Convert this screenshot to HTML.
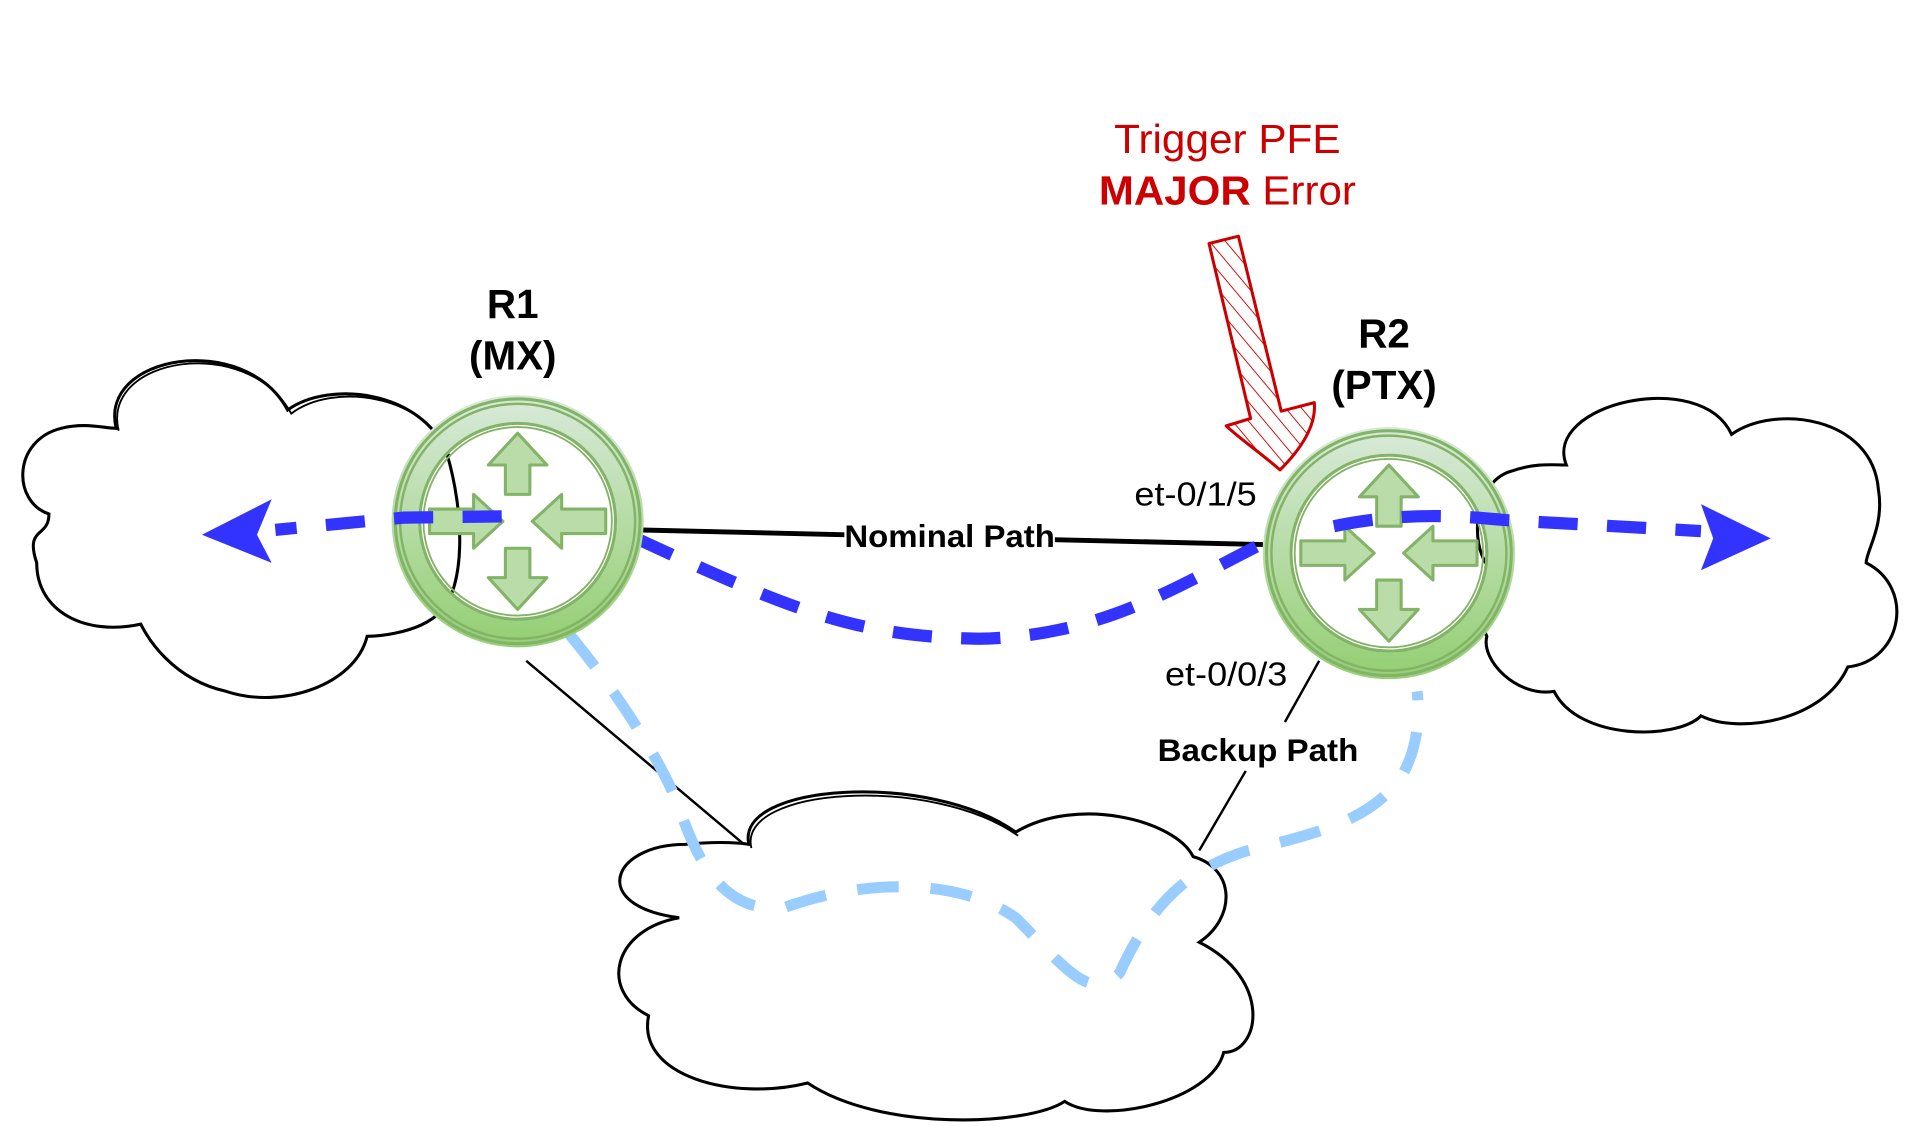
<!DOCTYPE html>
<html><head><meta charset="utf-8"><style>
html,body{margin:0;padding:0;background:#fff;}
svg{display:block;}
text{font-family:"Liberation Sans",Arial,sans-serif;}
</style></head><body>
<svg width="1909" height="1135" viewBox="0 0 1560 927.5" xmlns="http://www.w3.org/2000/svg">
<defs>
<linearGradient id="g" x1="0" y1="0" x2="0" y2="1">
<stop offset="0" stop-color="#d5e8d4"/><stop offset="1" stop-color="#97d077"/>
</linearGradient>
<pattern id="h" width="10" height="10" patternUnits="userSpaceOnUse" patternTransform="rotate(-40)">
<line x1="0" y1="0" x2="0" y2="10" stroke="#cc0000" stroke-width="1.5"/>
</pattern>
<g id="router">
<circle r="92" fill="none" stroke="url(#g)" stroke-width="22"/>
<circle r="100" fill="none" stroke="#82b366" stroke-width="2.5"/>
<circle r="96" fill="none" stroke="#82b366" stroke-width="2"/>
<circle r="80" fill="none" stroke="#82b366" stroke-width="2.5"/>
<circle r="77" fill="none" stroke="#82b366" stroke-width="1.5"/>
<g fill="#b9dca8" stroke="#82b366" stroke-width="2.5" stroke-linejoin="round">
<path d="M0,-72 L-24,-46 L-10,-46 L-10,-22 L10,-22 L10,-46 L24,-46 Z"/>
<path d="M0,72 L-24,46 L-10,46 L-10,22 L10,22 L10,46 L24,46 Z"/>
<path d="M-12,0 L-36,-22 L-36,-10 L-72,-10 L-72,10 L-36,10 L-36,22 Z"/>
<path d="M12,0 L36,-22 L36,-10 L72,-10 L72,10 L36,10 L36,22 Z"/>
</g>
</g>
</defs>

<g fill="#fff" stroke="#000" stroke-width="2.5">
<path d="M95,350 C80,290 200,270 235,335 C270,310 345,320 365,370 C380,420 380,480 360,500 C340,520 300,520 300,520 C290,560 230,580 185,565 C140,555 120,520 115,510 C70,520 30,500 30,460 C20,430 40,440 40,420 C10,410 10,360 50,350 C70,345 85,350 95,350 Z"/>
<path d="M97,352 C82,292 202,272 238,338 C272,312 348,322 367,372" fill="none" stroke-width="1.5"/>
<path d="M1280,380 C1260,330 1390,300 1415,355 C1450,330 1530,340 1535,400 C1540,430 1525,450 1525,460 C1565,480 1555,540 1510,545 C1490,590 1420,600 1390,585 C1370,605 1290,605 1270,565 C1240,570 1210,540 1215,520 C1205,500 1220,480 1225,470 C1200,460 1200,395 1235,385 C1255,378 1270,380 1280,380 Z"/>
<path d="M612,690 C600,640 760,630 830,680 C880,650 960,670 975,700 C1010,710 1010,750 980,770 C1040,800 1030,860 1000,860 C990,900 900,920 870,900 C840,920 720,925 660,885 C600,900 520,880 530,830 C490,810 500,760 555,750 C480,740 500,690 560,690 C580,688 600,688 612,690 Z"/>
<path d="M614,693 C602,643 762,633 832,683" fill="none" stroke-width="1.5"/>
</g>

<line x1="520" y1="433" x2="1032" y2="445" stroke="#000" stroke-width="4"/>
<line x1="430" y1="540" x2="608" y2="690" stroke="#000" stroke-width="2"/>
<path d="M1078,540 L1050,590 M1018,630 L980,695" stroke="#000" stroke-width="2" fill="none"/>

<path d="M465,518 C500,560 540,620 555,660 C575,720 600,745 640,742 C700,720 780,715 830,750 C870,790 890,820 915,795 C940,740 970,710 1020,695 C1080,680 1120,670 1145,635 C1160,610 1160,580 1158,565" fill="none" stroke="#99ccff" stroke-width="9" stroke-dasharray="34 26"/>

<path d="M520,440 C650,500 700,520 800,522 C900,520 960,480 1030,445" fill="none" stroke="#3333ff" stroke-width="10" stroke-dasharray="32 24"/>

<use href="#router" x="423" y="426"/>
<use href="#router" x="1135" y="452"/>

<path d="M410,422 L330,423 L225,433" fill="none" stroke="#3333ff" stroke-width="10" stroke-dasharray="32 24"/>
<path d="M165,437 L222,408 L210,437 L222,460 Z" fill="#3333ff"/>
<path d="M1090,430 C1140,420 1180,420 1230,425 L1390,434" fill="none" stroke="#3333ff" stroke-width="10" stroke-dasharray="32 24"/>
<path d="M1447,440 L1390,412 L1400,440 L1390,466 Z" fill="#3333ff"/>

<path d="M988,199 L1012,193 L1047,336 L1074,329 C1076,350 1060,370 1046,384 C1030,370 1015,360 1002,348 L1022,342 Z" fill="url(#h)" stroke="#cc0000" stroke-width="2.5" stroke-linejoin="round"/>

<g font-weight="bold" fill="#000" text-anchor="middle">
<text x="419" y="260" font-size="33">R1</text>
<text x="419" y="302" font-size="33">(MX)</text>
<text x="1131" y="284" font-size="33">R2</text>
<text x="1131" y="326" font-size="33">(PTX)</text>
</g>
<rect x="690" y="424" width="172" height="28" fill="#fff"/>
<text x="776" y="447" font-size="26" font-weight="bold" text-anchor="middle" textLength="172" lengthAdjust="spacingAndGlyphs">Nominal Path</text>
<text x="977" y="413" font-size="27" text-anchor="middle" textLength="100" lengthAdjust="spacingAndGlyphs">et-0/1/5</text>
<text x="1002" y="560" font-size="27" text-anchor="middle" textLength="100" lengthAdjust="spacingAndGlyphs">et-0/0/3</text>
<text x="1028" y="622" font-size="26" font-weight="bold" text-anchor="middle" textLength="164" lengthAdjust="spacingAndGlyphs">Backup Path</text>
<text x="1003" y="125" font-size="33" fill="#cc0000" text-anchor="middle" textLength="185" lengthAdjust="spacingAndGlyphs">Trigger PFE</text>
<text x="1003" y="167" font-size="33" fill="#cc0000" text-anchor="middle" textLength="210" lengthAdjust="spacingAndGlyphs"><tspan font-weight="bold">MAJOR</tspan> Error</text>
</svg>
</body></html>
